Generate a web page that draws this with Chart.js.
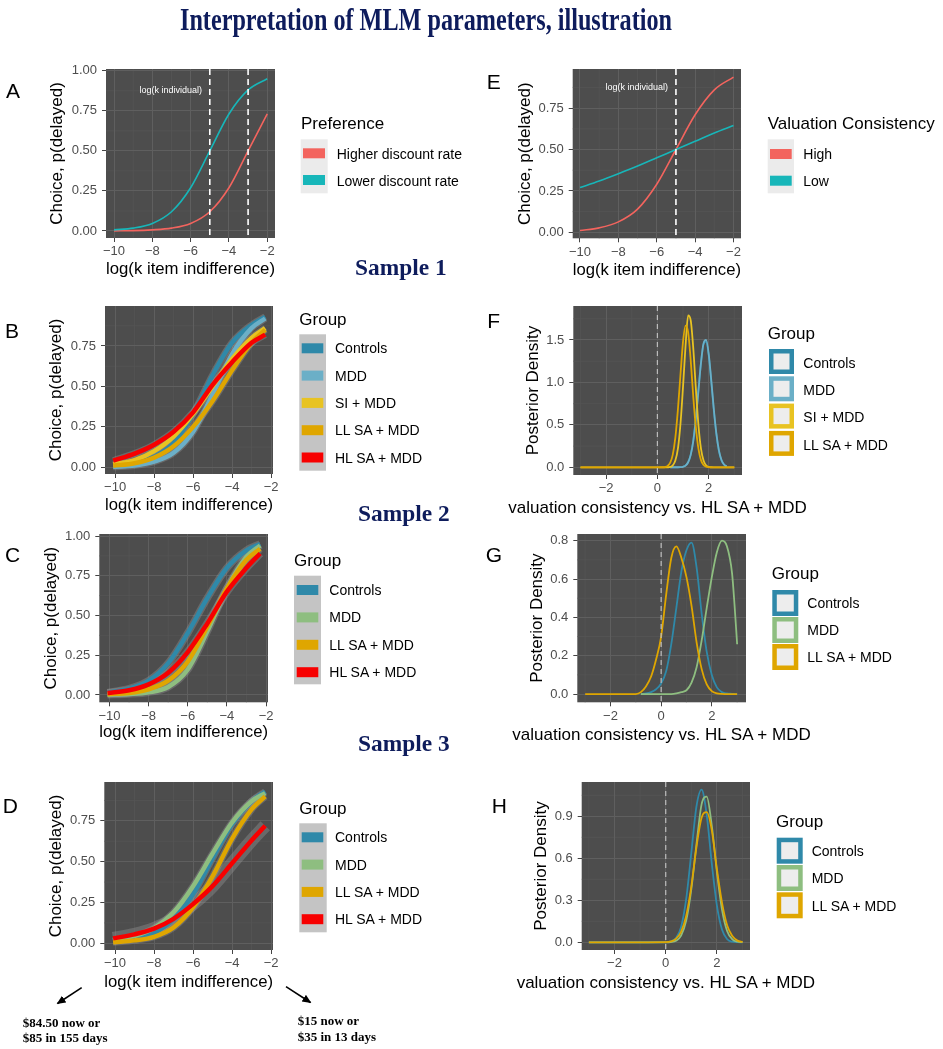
<!DOCTYPE html>
<html><head><meta charset="utf-8">
<script src="https://cdn.jsdelivr.net/npm/chart.js@4.4.1/dist/chart.umd.min.js"></script>
<style>
html,body{margin:0;padding:0;background:#fff;}
#page{position:relative;width:943px;height:1049px;overflow:hidden;background:#fff;}
#page canvas{position:absolute;}
#page svg{position:absolute;left:0;top:0;}
</style></head><body><div id="page"></div>
<script>
// ---------------- DATA ----------------
// Panel A / E : illustration curves
const A_X = [-10, -9, -8, -7, -6, -5, -4, -3, -2];
const A_HIGHER = [0.001, 0.002, 0.007, 0.018, 0.047, 0.12, 0.27, 0.50, 0.73];
const A_LOWER  = [0.007, 0.018, 0.047, 0.12, 0.27, 0.50, 0.73, 0.88, 0.95];
const A_VLINES = [-5, -3];
const E_X = [-10, -9, -8, -7, -6, -5, -4, -3, -2];
const E_HIGH = [0.011, 0.027, 0.063, 0.14, 0.29, 0.50, 0.71, 0.86, 0.937];
const E_LOW  = [0.27, 0.31, 0.354, 0.40, 0.45, 0.50, 0.55, 0.60, 0.645];
const E_VLINES = [-5];

// Samples: choice curves (B, C, D)
const S_X = [-10.1, -9, -8, -7, -6, -5, -4, -3, -2.3];
const B_CONTROLS = [0.010, 0.025, 0.065, 0.15, 0.33, 0.57, 0.77, 0.88, 0.93];
const B_MDD      = [0.004, 0.012, 0.035, 0.09, 0.22, 0.45, 0.70, 0.86, 0.92];
const B_SI       = [0.020, 0.045, 0.10, 0.19, 0.33, 0.50, 0.67, 0.80, 0.86];
const B_LL       = [0.010, 0.025, 0.06, 0.13, 0.25, 0.41, 0.60, 0.77, 0.85];
const B_HL       = [0.041, 0.085, 0.14, 0.22, 0.34, 0.51, 0.65, 0.77, 0.82];

const C_CONTROLS = [0.015, 0.04, 0.09, 0.20, 0.39, 0.61, 0.80, 0.91, 0.95];
const C_MDD      = [0.002, 0.006, 0.017, 0.05, 0.16, 0.40, 0.67, 0.87, 0.94];
const C_LL       = [0.005, 0.013, 0.036, 0.09, 0.21, 0.43, 0.67, 0.85, 0.92];
const C_HL       = [0.013, 0.03, 0.067, 0.14, 0.27, 0.45, 0.65, 0.80, 0.89];

const D_CONTROLS = [0.011, 0.03, 0.065, 0.15, 0.30, 0.52, 0.73, 0.87, 0.93];
const D_MDD      = [0.018, 0.045, 0.093, 0.19, 0.35, 0.55, 0.74, 0.87, 0.92];
const D_LL       = [0.007, 0.018, 0.04, 0.097, 0.22, 0.41, 0.64, 0.82, 0.90];
const D_HL       = [0.03, 0.055, 0.09, 0.15, 0.24, 0.35, 0.49, 0.63, 0.72];

// Posterior densities (F, G, H)
const F_X = [-3,-2,-1,0,0.2,0.3,0.4,0.5,0.6,0.7,0.8,0.9,1.0,1.1,1.2,1.3,1.4,1.5,1.6,1.7,1.8,1.9,2.0,2.1,2.2,2.3,2.4,2.5,2.6,2.7,2.8,2.9,3.0];
const F_CONTROLS = [null,null,null,null,null,null,null,0.001,0.001,0.001,0.001,0.002,0.007,0.023,0.063,0.152,0.32,0.58,0.91,1.23,1.45,1.48,1.32,1.01,0.67,0.39,0.19,0.083,0.031,0.01,null,null,null];
const F_MDD      = [null,null,null,null,null,null,null,0.001,0.001,0.001,0.001,0.002,0.0065,0.021,0.06,0.147,0.31,0.57,0.90,1.23,1.46,1.50,1.34,1.03,0.69,0.40,0.20,0.087,0.033,0.011,null,null,null];
const F_SI       = [0,0,0,0,0,0,0.001,0.005,0.023,0.08,0.22,0.51,0.95,1.44,1.79,1.73,1.40,0.93,0.50,0.22,0.08,0.023,0.005,0.001,0,0,0,0,0,0,0,0,0];
const F_LL       = [0,0,0,0,0.001,0.004,0.017,0.055,0.15,0.35,0.68,1.09,1.48,1.67,1.59,1.26,0.83,0.47,0.22,0.085,0.027,0.008,0.002,0,0,0,0,0,0,0,0,0,0];

const G_X = [-3,-2,-1,-0.8,-0.6,-0.4,-0.2,0,0.2,0.4,0.6,0.8,1.0,1.2,1.4,1.6,1.8,2.0,2.2,2.4,2.6,2.8,2.9,3.0];
const G_CONTROLS = [null,null,null,0,0.003,0.01,0.025,0.055,0.12,0.26,0.45,0.64,0.75,0.79,0.66,0.42,0.22,0.10,0.035,0.01,0.003,0.001,0,0];
const G_MDD      = [null,null,null,0,0,0,0,0,0,0,0.003,0.01,0.02,0.06,0.14,0.28,0.45,0.61,0.74,0.80,0.77,0.63,0.46,0.26];
const G_LL       = [0,0,0,0.01,0.04,0.09,0.18,0.30,0.52,0.71,0.77,0.71,0.61,0.46,0.27,0.13,0.05,0.015,0.004,0.001,0,0,0,0];

const H_X = [-3,-2,-1,0,0.2,0.4,0.6,0.8,1.0,1.2,1.4,1.6,1.8,2.0,2.2,2.4,2.6,2.8,3.0];
const H_CONTROLS = [0,0,0,0.001,0.006,0.03,0.11,0.31,0.64,0.97,1.09,0.91,0.56,0.26,0.089,0.022,0.004,0.001,0];
const H_MDD      = [0,0,0,0,0.002,0.011,0.048,0.155,0.38,0.70,0.985,1.04,0.83,0.50,0.23,0.079,0.021,0.004,0.001];
const H_LL       = [0,0,0,0.001,0.006,0.025,0.075,0.19,0.40,0.68,0.89,0.93,0.80,0.52,0.28,0.12,0.045,0.012,0.002];
const DENS_VLINES = [0];

// Ticks
const K_TICKS = [-10, -8, -6, -4, -2];
const K_LABELS = ['\u221210', '\u22128', '\u22126', '\u22124', '\u22122'];
const P_TICKS4 = [0, 0.25, 0.5, 0.75];
const P_LABELS4 = ['0.00', '0.25', '0.50', '0.75'];
const P_TICKS5 = [0, 0.25, 0.5, 0.75, 1];
const P_LABELS5 = ['0.00', '0.25', '0.50', '0.75', '1.00'];
const V_TICKS = [-2, 0, 2];
const V_LABELS = ['\u22122', '0', '2'];
const F_YTICKS = [0, 0.5, 1, 1.5];
const F_YLABELS = ['0.0', '0.5', '1.0', '1.5'];
const G_YTICKS = [0, 0.2, 0.4, 0.6, 0.8];
const G_YLABELS = ['0.0', '0.2', '0.4', '0.6', '0.8'];
const H_YTICKS = [0, 0.3, 0.6, 0.9];
const H_YLABELS = ['0.0', '0.3', '0.6', '0.9'];

// Legend labels
const PREF_LABELS = ['Higher discount rate', 'Lower discount rate'];
const VC_LABELS = ['High', 'Low'];
const G5_LABELS = ['Controls', 'MDD', 'SI + MDD', 'LL SA + MDD', 'HL SA + MDD'];
const G4_LABELS = ['Controls', 'MDD', 'LL SA + MDD', 'HL SA + MDD'];
const GF_LABELS = ['Controls', 'MDD', 'SI + MDD', 'LL SA + MDD'];
const G3_LABELS = ['Controls', 'MDD', 'LL SA + MDD'];

// ---------------- STYLE ----------------
const SANS = "'Liberation Sans', Arial, Helvetica, sans-serif";
const SERIF = "'Liberation Serif', 'Times New Roman', serif";
const NAVY = '#0E1C5C';
const COL_RED = '#F3645E', COL_TEAL = '#17B6B9';
const COL_CON = '#2F89A9', COL_MDDB = '#6BAFC7', COL_MDDG = '#8EBE80', COL_SI = '#E8C322', COL_LL = '#DFA600', COL_HL = '#F70000';
const RIBBON = 'rgba(165,165,165,0.32)';
const BG = '#4D4D4D', GRID = '#5F5F5F', MINOR = '#565656';

Chart.defaults.font.family = SANS;
Chart.defaults.animation = false;

const page = document.getElementById('page');

// ---------------- SVG overlay helpers ----------------
const NS = 'http://www.w3.org/2000/svg';
const svg = document.createElementNS(NS, 'svg');
svg.setAttribute('width', 943); svg.setAttribute('height', 1049);
function el(tag, attrs, text) {
  const e = document.createElementNS(NS, tag);
  for (const k in attrs) e.setAttribute(k, attrs[k]);
  if (text != null) e.textContent = text;
  svg.appendChild(e);
  return e;
}
function txt(x, y, s, size, opts) {
  opts = opts || {};
  const a = { x, y, 'font-size': size, 'font-family': opts.family || SANS, fill: opts.fill || '#000' };
  if (opts.weight) a['font-weight'] = opts.weight;
  if (opts.anchor) a['text-anchor'] = opts.anchor;
  if (opts.len) { a.textLength = opts.len; a.lengthAdjust = 'spacingAndGlyphs'; }
  return el('text', a, s);
}

function minorOf(t, lo, hi) {
  const step = t[1] - t[0], out = [];
  for (let v = t[0] - step / 2; v <= hi; v += step) if (v >= lo) out.push(v);
  return out;
}

function makePanel(cfg) {
  const [L, T, R, B] = cfg.plot;
  const OFF = 17 * 1.2 / 2 + 4;
  const PADT = 14, PADR = 12;
  const cl = Math.round(cfg.yTitleX - OFF), ct = Math.round(T - PADT);
  const cr = Math.round(R + PADR), cb = Math.round(cfg.xTitleY + OFF);
  const cv = document.createElement('canvas');
  cv.width = cr - cl; cv.height = cb - ct;
  cv.style.left = cl + 'px'; cv.style.top = ct + 'px';
  cv.style.width = (cr - cl) + 'px'; cv.style.height = (cb - ct) + 'px';
  page.appendChild(cv);
  const xMinor = minorOf(cfg.xTicks, cfg.xr[0], cfg.xr[1]);
  const yMinor = minorOf(cfg.yTicks, cfg.yr[0], cfg.yr[1]);
  const ds = [];
  cfg.series.forEach((s, i) => {
    const mk = () => s.x.map((xv, j) => ({ x: xv, y: s.y[j] }));
    if (s.ribbon) ds.push({ data: mk(), borderColor: RIBBON, borderWidth: s.ribbon, pointRadius: 0,
      cubicInterpolationMode: 'monotone', borderCapStyle: 'butt', order: 1000 - i });
    ds.push({ data: mk(), borderColor: s.color, borderWidth: s.w, pointRadius: 0,
      cubicInterpolationMode: 'monotone', borderCapStyle: 'butt', order: 100 - i });
  });
  const deco = {
    id: 'deco' + cfg.key,
    beforeDraw(chart) {
      const { ctx, chartArea: a, scales: { x, y } } = chart;
      ctx.save();
      ctx.fillStyle = BG;
      ctx.fillRect(a.left, a.top, a.right - a.left, a.bottom - a.top);
      ctx.strokeStyle = MINOR; ctx.lineWidth = 0.7;
      ctx.beginPath();
      xMinor.forEach(v => { const p = x.getPixelForValue(v); ctx.moveTo(p, a.top); ctx.lineTo(p, a.bottom); });
      yMinor.forEach(v => { const p = y.getPixelForValue(v); ctx.moveTo(a.left, p); ctx.lineTo(a.right, p); });
      ctx.stroke();
      ctx.restore();
    },
    afterDatasetsDraw(chart) {
      const { ctx, chartArea: a, scales: { x, y } } = chart;
      ctx.save();
      ctx.strokeStyle = cfg.vcolor; ctx.lineWidth = cfg.vwidth; ctx.setLineDash(cfg.vdash);
      (cfg.vlines || []).forEach(v => {
        const p = x.getPixelForValue(v);
        ctx.beginPath(); ctx.moveTo(p, a.top); ctx.lineTo(p, a.bottom); ctx.stroke();
      });
      ctx.setLineDash([]);
      if (cfg.note) {
        ctx.fillStyle = '#ffffff'; ctx.font = '9px ' + SANS;
        ctx.textAlign = 'center'; ctx.textBaseline = 'middle';
        ctx.fillText(cfg.note.text, x.getPixelForValue(cfg.note.x), y.getPixelForValue(cfg.note.y));
      }
      ctx.restore();
    }
  };
  const tickFont = { size: 13 };
  // wide x titles are written as page text so they are not squeezed to the panel width
  if (cfg.xTitleWide) txt((L + R) / 2, cfg.xTitleY + 6, cfg.xTitle, 17, { anchor: 'middle' });
  new Chart(cv, {
    type: 'line',
    data: { datasets: ds },
    plugins: [deco],
    options: {
      responsive: false, animation: false, devicePixelRatio: 1,
      layout: { padding: { top: PADT, right: PADR, left: 0, bottom: 0 } },
      plugins: { legend: { display: false }, tooltip: { enabled: false } },
      scales: {
        x: {
          type: 'linear', min: cfg.xr[0], max: cfg.xr[1],
          afterBuildTicks: s => { s.ticks = cfg.xTicks.map(v => ({ value: v })); },
          afterFit: s => { s.height = cb - B; },
          ticks: { callback: (v, i) => cfg.xLabels[i], color: '#4D4D4D', font: tickFont, padding: 2, maxRotation: 0, autoSkip: false },
          grid: { color: GRID, lineWidth: 1, tickColor: '#444444', tickLength: 4 },
          border: { display: false },
          title: { display: !cfg.xTitleWide, text: cfg.xTitle, color: '#000', font: { size: 17 }, padding: { top: 4, bottom: 4 } }
        },
        y: {
          type: 'linear', min: cfg.yr[0], max: cfg.yr[1],
          afterBuildTicks: s => { s.ticks = cfg.yTicks.map(v => ({ value: v })); },
          afterFit: s => { s.width = L - cl; },
          ticks: { callback: (v, i) => cfg.yLabels[i], color: '#4D4D4D', font: tickFont, padding: 5, autoSkip: false },
          grid: { color: GRID, lineWidth: 1, tickColor: '#444444', tickLength: 4 },
          border: { display: false },
          title: { display: true, text: cfg.yTitle, color: '#000', font: { size: 17 }, padding: { top: 4, bottom: 4 } }
        }
      }
    }
  });
}

const KT = 'log(k item indifference)', CT = 'Choice, p(delayed)';
const VT = 'valuation consistency vs. HL SA + MDD', PT = 'Posterior Density';
const whiteV = { vcolor: '#FFFFFF', vwidth: 1.6, vdash: [6, 4] };
const greyV = { vcolor: '#BDBDBD', vwidth: 1.2, vdash: [5, 4], xTitleWide: true };

makePanel(Object.assign({ key: 'A', plot: [106, 69, 275, 238], yTitleX: 57, xTitleY: 270,
  xr: [-10.42, -1.595], yr: [-0.0437, 1.0106], xTicks: K_TICKS, xLabels: K_LABELS, yTicks: P_TICKS5, yLabels: P_LABELS5,
  xTitle: KT, yTitle: CT, vlines: A_VLINES, note: { text: 'log(k individual)', x: -7.04, y: 0.875 },
  series: [{ x: A_X, y: A_HIGHER, color: COL_RED, w: 1.6 }, { x: A_X, y: A_LOWER, color: COL_TEAL, w: 1.6 }] }, whiteV));

makePanel(Object.assign({ key: 'E', plot: [572.7, 69.3, 740.7, 238.3], yTitleX: 525, xTitleY: 270.7,
  xr: [-10.38, -1.61], yr: [-0.036, 0.986], xTicks: K_TICKS, xLabels: K_LABELS, yTicks: P_TICKS4, yLabels: P_LABELS4,
  xTitle: KT, yTitle: CT, vlines: E_VLINES, note: { text: 'log(k individual)', x: -7.04, y: 0.876 },
  series: [{ x: E_X, y: E_HIGH, color: COL_RED, w: 1.6 }, { x: E_X, y: E_LOW, color: COL_TEAL, w: 1.6 }] }, whiteV));

makePanel(Object.assign({ key: 'B', plot: [105, 306, 273.3, 474], yTitleX: 56, xTitleY: 505.7,
  xr: [-10.52, -1.9], yr: [-0.041, 0.997], xTicks: K_TICKS, xLabels: K_LABELS, yTicks: P_TICKS4, yLabels: P_LABELS4,
  xTitle: KT, yTitle: CT, vlines: [],
  series: [
    { x: S_X, y: B_CONTROLS, color: COL_CON, w: 4.5, ribbon: 7 },
    { x: S_X, y: B_MDD, color: COL_MDDB, w: 4.5, ribbon: 7 },
    { x: S_X, y: B_SI, color: COL_SI, w: 4.5, ribbon: 7 },
    { x: S_X, y: B_LL, color: COL_LL, w: 4.5, ribbon: 7 },
    { x: S_X, y: B_HL, color: COL_HL, w: 4.5, ribbon: 7 }] }, whiteV));

makePanel(Object.assign({ key: 'C', plot: [99.3, 534, 267.7, 702.3], yTitleX: 50.7, xTitleY: 733,
  xr: [-10.52, -1.9], yr: [-0.046, 1.0126], xTicks: K_TICKS, xLabels: K_LABELS, yTicks: P_TICKS5, yLabels: P_LABELS5,
  xTitle: KT, yTitle: CT, vlines: [],
  series: [
    { x: S_X, y: C_CONTROLS, color: COL_CON, w: 4.5, ribbon: 7.5 },
    { x: S_X, y: C_MDD, color: COL_MDDG, w: 4.5, ribbon: 7.5 },
    { x: S_X, y: C_LL, color: COL_LL, w: 4.5, ribbon: 7.5 },
    { x: S_X, y: C_HL, color: COL_HL, w: 4.5, ribbon: 8 }] }, whiteV));

makePanel(Object.assign({ key: 'D', plot: [104.3, 781.7, 273.3, 950], yTitleX: 56, xTitleY: 982.3,
  xr: [-10.55, -1.9], yr: [-0.041, 0.988], xTicks: K_TICKS, xLabels: K_LABELS, yTicks: P_TICKS4, yLabels: P_LABELS4,
  xTitle: KT, yTitle: CT, vlines: [],
  series: [
    { x: S_X, y: D_CONTROLS, color: COL_CON, w: 4.5, ribbon: 7 },
    { x: S_X, y: D_MDD, color: COL_MDDG, w: 4.5, ribbon: 7 },
    { x: S_X, y: D_LL, color: COL_LL, w: 4.5, ribbon: 7 },
    { x: S_X, y: D_HL, color: COL_HL, w: 4.5, ribbon: 13 }] }, whiteV));

makePanel(Object.assign({ key: 'F', plot: [573.3, 306, 741.7, 475], yTitleX: 533.3, xTitleY: 507.3,
  xr: [-3.28, 3.3], yr: [-0.09, 1.9], xTicks: V_TICKS, xLabels: V_LABELS, yTicks: F_YTICKS, yLabels: F_YLABELS,
  xTitle: VT, yTitle: PT, vlines: DENS_VLINES,
  series: [
    { x: F_X, y: F_CONTROLS, color: COL_CON, w: 1.8 },
    { x: F_X, y: F_MDD, color: COL_MDDB, w: 1.8 },
    { x: F_X, y: F_SI, color: COL_SI, w: 1.8 },
    { x: F_X, y: F_LL, color: COL_LL, w: 1.8 }] }, greyV));

makePanel(Object.assign({ key: 'G', plot: [577.3, 534, 745.7, 702.3], yTitleX: 536.7, xTitleY: 734,
  xr: [-3.31, 3.35], yr: [-0.043, 0.835], xTicks: V_TICKS, xLabels: V_LABELS, yTicks: G_YTICKS, yLabels: G_YLABELS,
  xTitle: VT, yTitle: PT, vlines: DENS_VLINES,
  series: [
    { x: G_X, y: G_CONTROLS, color: COL_CON, w: 1.8 },
    { x: G_X, y: G_MDD, color: COL_MDDG, w: 1.8 },
    { x: G_X, y: G_LL, color: COL_LL, w: 1.8 }] }, greyV));

makePanel(Object.assign({ key: 'H', plot: [581.7, 781.7, 750, 950], yTitleX: 541, xTitleY: 982.3,
  xr: [-3.28, 3.29], yr: [-0.055, 1.145], xTicks: V_TICKS, xLabels: V_LABELS, yTicks: H_YTICKS, yLabels: H_YLABELS,
  xTitle: VT, yTitle: PT, vlines: DENS_VLINES,
  series: [
    { x: H_X, y: H_CONTROLS, color: COL_CON, w: 1.8 },
    { x: H_X, y: H_MDD, color: COL_MDDG, w: 1.8 },
    { x: H_X, y: H_LL, color: COL_LL, w: 1.8 }] }, greyV));

page.appendChild(svg);

txt(180, 30, 'Interpretation of MLM parameters, illustration', 31, { family: SERIF, weight: 'bold', fill: NAVY, len: 492 });
txt(355, 274.5, 'Sample 1', 23.4, { family: SERIF, weight: 'bold', fill: NAVY });
txt(358, 521, 'Sample 2', 23.4, { family: SERIF, weight: 'bold', fill: NAVY });
txt(358, 751, 'Sample 3', 23.4, { family: SERIF, weight: 'bold', fill: NAVY });

[['A', 6, 98.3], ['E', 486.7, 89.3], ['B', 5, 338.3], ['F', 487.3, 328.3],
 ['C', 5, 561.7], ['G', 485.7, 561.7], ['D', 2.7, 813.3], ['H', 491.7, 813.3]]
  .forEach(([s, x, y]) => txt(x, y, s, 21));

function fillLegend(o) {
  txt(o.tx, o.ty, o.title, 17);
  el('rect', { x: o.bg[0], y: o.bg[1], width: o.bg[2], height: o.bg[3], fill: o.bgc });
  o.labels.forEach((lab, i) => {
    el('rect', { x: o.kx, y: o.ky0 + i * o.dy, width: o.kw, height: 10, fill: o.colors[i] });
    txt(o.lx, o.ly0 + i * o.dy, lab, 14);
  });
}
function boxLegend(o) {
  txt(o.tx, o.ty, o.title, 17);
  const sw = 4.5;
  o.labels.forEach((lab, i) => {
    el('rect', { x: o.kx + sw / 2, y: o.ky0 + i * o.dy + sw / 2, width: o.ks - sw, height: o.ks - sw,
      fill: '#EDEDED', stroke: o.colors[i], 'stroke-width': sw });
    txt(o.lx, o.ly0 + i * o.dy, lab, 14);
  });
}
fillLegend({ title: 'Preference', tx: 301, ty: 129, bg: [300.7, 139.3, 27, 54], bgc: '#EBEBEB',
  labels: PREF_LABELS, colors: [COL_RED, COL_TEAL], kx: 303, ky0: 148.3, kw: 22, dy: 26.7, lx: 336.7, ly0: 159 });
fillLegend({ title: 'Valuation Consistency', tx: 767.7, ty: 129.3, bg: [767.7, 139.3, 26.3, 54], bgc: '#EBEBEB',
  labels: VC_LABELS, colors: [COL_RED, COL_TEAL], kx: 770, ky0: 149, kw: 21.7, dy: 26.7, lx: 803.3, ly0: 159 });
fillLegend({ title: 'Group', tx: 299.3, ty: 325.3, bg: [299.3, 334.3, 26.7, 136.4], bgc: '#C4C4C4',
  labels: G5_LABELS, colors: [COL_CON, COL_MDDB, COL_SI, COL_LL, COL_HL], kx: 301.7, ky0: 343.3, kw: 21.6, dy: 27.3, lx: 335, ly0: 353.3 });
fillLegend({ title: 'Group', tx: 294, ty: 566, bg: [294, 575.7, 27, 108.6], bgc: '#C4C4C4',
  labels: G4_LABELS, colors: [COL_CON, COL_MDDG, COL_LL, COL_HL], kx: 296.7, ky0: 585, kw: 21.6, dy: 27.4, lx: 329.3, ly0: 595 });
fillLegend({ title: 'Group', tx: 299.3, ty: 813.7, bg: [299.3, 823.3, 27.4, 109], bgc: '#C4C4C4',
  labels: G4_LABELS, colors: [COL_CON, COL_MDDG, COL_LL, COL_HL], kx: 301.7, ky0: 832.3, kw: 21.6, dy: 27.3, lx: 335, ly0: 842.3 });
boxLegend({ title: 'Group', tx: 767.7, ty: 338.7, labels: GF_LABELS, colors: [COL_CON, COL_MDDB, COL_SI, COL_LL],
  kx: 769, ky0: 349, ks: 25, dy: 27.3, lx: 803.3, ly0: 367.7 });
boxLegend({ title: 'Group', tx: 771.7, ty: 579.3, labels: G3_LABELS, colors: [COL_CON, COL_MDDG, COL_LL],
  kx: 772.3, ky0: 590, ks: 26, dy: 27, lx: 807.3, ly0: 608.3 });
boxLegend({ title: 'Group', tx: 776, ty: 827, labels: G3_LABELS, colors: [COL_CON, COL_MDDG, COL_LL],
  kx: 776.7, ky0: 837.7, ks: 26, dy: 27.3, lx: 811.7, ly0: 856 });

// bottom annotations
const noteOpt = { family: SERIF, weight: 'bold' };
txt(22.7, 1026.5, '$84.50 now or', 13, noteOpt);
txt(22.7, 1041.5, '$85 in 155 days', 13, noteOpt);
txt(297.7, 1024.8, '$15 now or', 13, noteOpt);
txt(297.7, 1040.5, '$35 in 13 days', 13, noteOpt);
const defs = el('defs', {});
const mkr = document.createElementNS(NS, 'marker');
[['id', 'ah'], ['markerWidth', 10], ['markerHeight', 10], ['refX', 8], ['refY', 4], ['orient', 'auto'], ['markerUnits', 'userSpaceOnUse']]
  .forEach(([k, v]) => mkr.setAttribute(k, v));
const mp = document.createElementNS(NS, 'path');
mp.setAttribute('d', 'M0,0 L9,4 L0,8 Z'); mp.setAttribute('fill', '#000');
mkr.appendChild(mp); defs.appendChild(mkr);
el('line', { x1: 81.7, y1: 987.7, x2: 57.5, y2: 1003.5, stroke: '#000', 'stroke-width': 1.6, 'marker-end': 'url(#ah)' });
el('line', { x1: 286, y1: 986.7, x2: 310.5, y2: 1002.5, stroke: '#000', 'stroke-width': 1.6, 'marker-end': 'url(#ah)' });
</script></body></html>
